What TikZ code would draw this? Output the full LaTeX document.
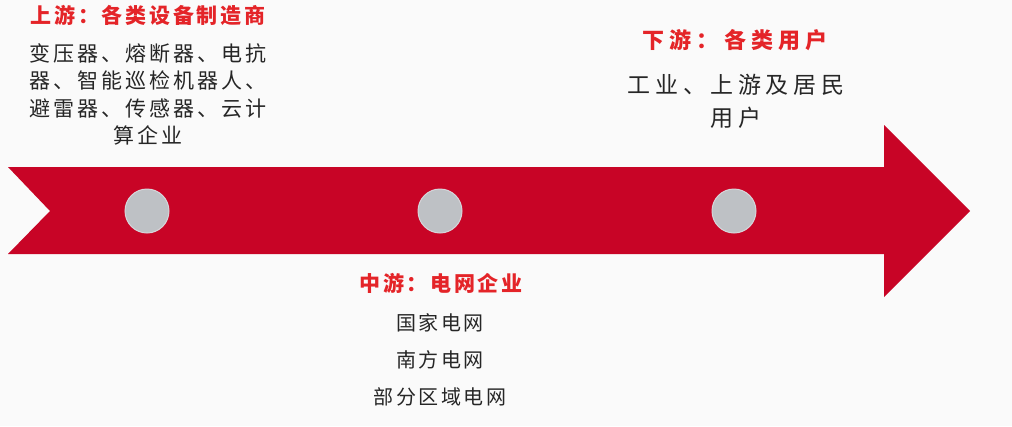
\documentclass[tikz,border=0pt]{standalone}
\usepackage{fontspec}
\newfontfamily\cjkbody{Noto Sans CJK SC}
\newcommand\cjkls[2]{\cjkbody\addfontfeatures{LetterSpace=#1}#2}
\definecolor{arrowred}{RGB}{200,4,38}
\definecolor{dotgrey}{RGB}{190,193,197}
\definecolor{dotedge}{RGB}{214,214,218}
\definecolor{headred}{RGB}{228,36,40}
\definecolor{bodytext}{RGB}{38,38,38}
\definecolor{bg}{RGB}{250,250,250}
\tikzset{
  dot/.style={circle, fill=dotgrey, draw=dotedge, line width=1pt, minimum size=44pt, inner sep=0pt},
  headtxt/.style={text=headred, inner sep=0pt},
  bodytxt/.style={text=bodytext, inner sep=0pt, align=center}
}
\begin{document}
\begin{tikzpicture}[x=1pt,y=-1pt]
\fill[bg] (0,0) rectangle (1012,426);
\useasboundingbox (0,0) rectangle (1012,426);
% arrow
\fill[arrowred] (8,167) -- (884,167) -- (884,125) -- (970,211) -- (884,297) -- (884,254) -- (8,254) -- (50,211) -- cycle;
% dots
\node[dot] (c1) at (147,211) {};
\node[dot] (c2) at (440,211) {};
\node[dot] (c3) at (734,211) {};
% upstream
\node[headtxt, font=\cjkls{13}{\bfseries\fontsize{21}{24}\selectfont}] (uph) at (148,15) {上游：各类设备制造商};
\node[bodytxt, font=\cjkls{14}{\fontsize{21}{27.5}\selectfont}, anchor=north] (upb) at (148,43) {变压器、熔断器、电抗\\器、智能巡检机器人、\\避雷器、传感器、云计\\算企业};
% midstream
\node[headtxt, font=\cjkls{12}{\bfseries\fontsize{21}{24}\selectfont}] (midh) at (441,283) {中游：电网企业};
\node[bodytxt, font=\cjkls{13}{\fontsize{20}{37}\selectfont}, anchor=north] (midb) at (440,313) {国家电网\\南方电网\\部分区域电网};
% downstream
\node[headtxt, font=\cjkls{23}{\bfseries\fontsize{22}{24}\selectfont}] (downh) at (735,40) {下游：各类用户};
\node[bodytxt, font=\cjkls{20}{\fontsize{23}{33}\selectfont}, anchor=north] (downb) at (736,74) {工业、上游及居民\\用户};
\end{tikzpicture}
\end{document}
